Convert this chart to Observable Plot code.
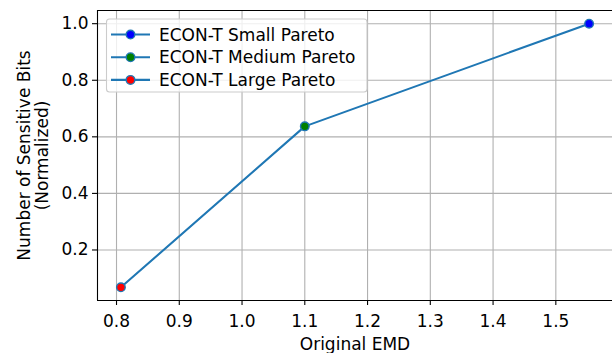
<!DOCTYPE html>
<html>
<head>
<meta charset="utf-8">
<script src="https://cdn.jsdelivr.net/npm/d3@7"></script>
<script src="https://cdn.jsdelivr.net/npm/@observablehq/plot@0.6"></script>
<style>
  html, body { margin: 0; padding: 0; background: white; }
  svg { display: block; }
</style>
</head>
<body>
<div id="chart"></div>
<script>
// Data
const seriesNames = ["ECON-T Small Pareto", "ECON-T Medium Pareto", "ECON-T Large Pareto"];
const originalEMD = [1.553, 1.100, 0.807];
const sensitiveBits = [1.000, 0.637, 0.068];
const markerColors = ["#0000ff", "#008000", "#ff0000"];
const xTicks = [0.8, 0.9, 1.0, 1.1, 1.2, 1.3, 1.4, 1.5];
const yTicks = [0.2, 0.4, 0.6, 0.8, 1.0];
const xLabel = "Original EMD";
const yLabel = "Number of Sensitive Bits\n(Normalized)";

const data = seriesNames.map((name, i) => ({
  name, emd: originalEMD[i], bits: sensitiveBits[i], color: markerColors[i]
}));

// matplotlib-like 5% margins
const xMin = d3.min(originalEMD), xMax = d3.max(originalEMD);
const yMin = d3.min(sensitiveBits), yMax = d3.max(sensitiveBits);
const xPad = (xMax - xMin) * 0.05, yPad = (yMax - yMin) * 0.05;
const xDomain = [xMin - xPad, xMax + xPad];
const yDomain = [yMin - yPad, yMax + yPad];

const FONT = "DejaVu Sans";
const FS = 17;
const LINE = "#1f77b4";

const chart = Plot.plot({
  width: 612,
  height: 353,
  marginLeft: 97,
  marginRight: 0,
  marginTop: 10,
  marginBottom: 53,
  style: { fontFamily: FONT, fontSize: FS + "px", background: "white", color: "black", overflow: "visible" },
  x: { domain: xDomain },
  y: { domain: yDomain },
  color: { type: "identity" },
  marks: [
    Plot.gridX(xTicks, { stroke: "#b0b0b0", strokeOpacity: 1, strokeWidth: 1.1 }),
    Plot.gridY(yTicks, { stroke: "#b0b0b0", strokeOpacity: 1, strokeWidth: 1.1 }),
    Plot.axisX(xTicks, { tickSize: 5, tickPadding: 9.6, tickFormat: d3.format(".1f"), label: null, fontSize: FS, strokeWidth: 1.1 }),
    Plot.axisY(yTicks, { tickSize: 5, tickPadding: 4, tickFormat: d3.format(".1f"), label: null, fontSize: FS, strokeWidth: 1.1 }),
    Plot.ruleX([xDomain[0]], { stroke: "black", strokeWidth: 1.1 }),
    Plot.ruleY([yDomain[0], yDomain[1]], { stroke: "black", strokeWidth: 1.1 }),
    Plot.line(data, { x: "emd", y: "bits", stroke: LINE, strokeWidth: 2.08 }),
    Plot.dot(data, { x: "emd", y: "bits", fill: "color", stroke: LINE, strokeWidth: 1.39, r: 4.3 }),
    Plot.text([xLabel], { frameAnchor: "bottom", dy: 44.5, fontSize: FS, lineAnchor: "middle", fill: "black" }),
    Plot.text([yLabel], { frameAnchor: "left", dx: -64, rotate: -90, fontSize: FS, lineHeight: 1.05, lineAnchor: "middle", textAnchor: "middle", fill: "black" })
  ]
});

document.getElementById("chart").appendChild(chart);

// Legend (upper left, matplotlib style)
const svg = d3.select(chart);
const lg = svg.append("g").attr("font-family", FONT).attr("font-size", FS).attr("text-anchor", "start");
lg.append("rect")
  .attr("x", 106.5).attr("y", 19).attr("width", 260.5).attr("height", 73)
  .attr("rx", 3).attr("fill", "white").attr("fill-opacity", 0.8)
  .attr("stroke", "#cccccc").attr("stroke-width", 1.1);
data.forEach((d, i) => {
  const y = 34.5 + i * 22.7;
  lg.append("line").attr("x1", 111).attr("x2", 150).attr("y1", y).attr("y2", y)
    .attr("stroke", LINE).attr("stroke-width", 2.08);
  lg.append("circle").attr("cx", 130.5).attr("cy", y).attr("r", 4.3)
    .attr("fill", d.color).attr("stroke", LINE).attr("stroke-width", 1.39);
  lg.append("text").attr("x", 159).attr("y", y).attr("dy", "0.36em")
    .attr("fill", "black").text(d.name);
});
</script>
</body>
</html>
